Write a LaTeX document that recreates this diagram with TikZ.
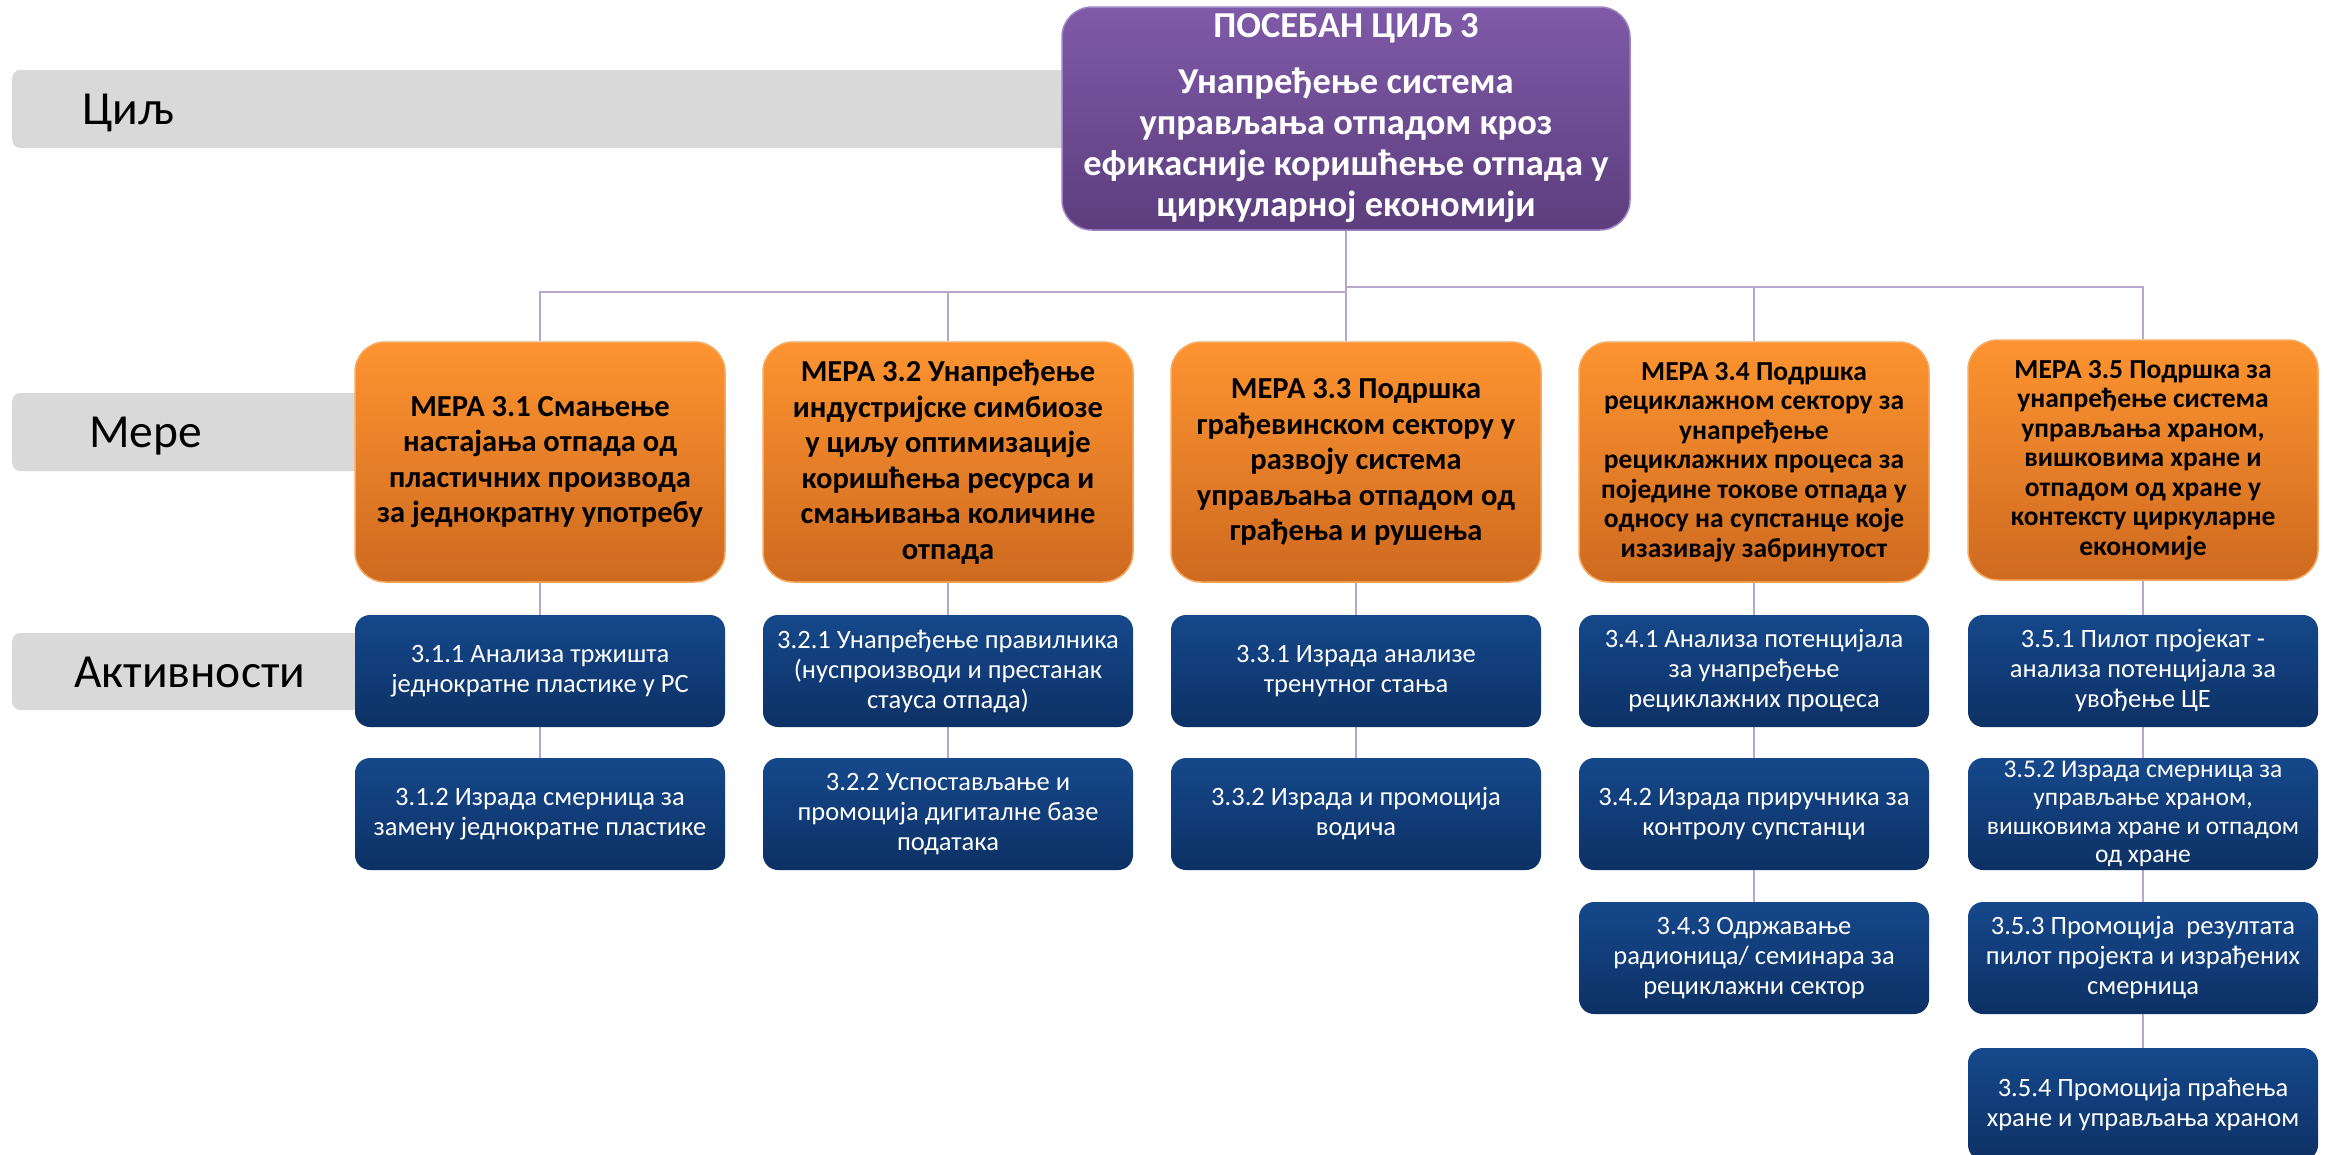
\documentclass[tikz,border=0pt]{standalone}
\usepackage{fontspec}
\setmainfont{Carlito}
\pgfdeclarelayer{bg}
\pgfsetlayers{bg,main}
\definecolor{orTop}{RGB}{253,148,48}
\definecolor{orBot}{RGB}{206,106,32}
\definecolor{orEdge}{RGB}{248,170,96}
\definecolor{blTop}{RGB}{21,72,139}
\definecolor{blBot}{RGB}{13,49,101}
\definecolor{puTop}{RGB}{127,90,168}
\definecolor{puBot}{RGB}{92,62,126}
\definecolor{puEdge}{RGB}{160,132,196}
\definecolor{connc}{RGB}{182,166,208}
\definecolor{lblgray}{RGB}{217,217,217}
\begin{document}
\begin{tikzpicture}[x=1pt,y=-1pt,
  mera/.style={rectangle, rounded corners=30pt, top color=orTop, bottom color=orBot,
    draw=orEdge, line width=1.5pt, minimum width=370pt, minimum height=240pt,
    align=center, inner sep=0pt, font=\bfseries\fontsize{30.5}{35.5}\selectfont},
  meranarrow/.style={mera, minimum width=350pt, font=\bfseries\fontsize{27.5}{29.5}\selectfont},
  akt/.style={rectangle, rounded corners=15pt, top color=blTop, bottom color=blBot,
    draw=none, minimum width=370pt, minimum height=112pt, align=center, inner sep=0pt,
    text=white, font=\fontsize{26.5}{30}\selectfont},
  aktnarrow/.style={akt, minimum width=350pt},
  cilj/.style={rectangle, rounded corners=30pt, top color=puTop, bottom color=puBot,
    draw=puEdge, line width=1.5pt, minimum width=568pt, minimum height=223pt,
    align=center, inner sep=0pt, text=white, font=\bfseries\fontsize{36.5}{41}\selectfont},
  graybar/.style={rectangle, rounded corners=8pt, fill=lblgray, draw=none, inner sep=0pt},
  lbltext/.style={anchor=base west, inner sep=0pt, font=\fontsize{47.5}{50}\selectfont},
  cl/.style={draw=connc, line width=2.5pt}
]
\useasboundingbox (0,0) rectangle (2328,1154);

% goal
\node[cilj] (pu) at (1346,118.5) {ПОСЕБАН ЦИЉ 3\\[15pt]Унапређење система\\управљања отпадом кроз\\ефикасније коришћење отпада у\\циркуларној економији};

% measures
\node[mera] (m1) at (540,462) {МЕРА 3.1 Смањење\\настајања отпада од\\пластичних производа\\за једнократну употребу};
\node[mera] (m2) at (948,462) {МЕРА 3.2 Унапређење\\индустријске симбиозе\\у циљу оптимизације\\коришћења ресурса и\\смањивања количине\\отпада};
\node[mera] (m3) at (1356,462) {МЕРА 3.3 Подршка\\грађевинском сектору у\\развоју система\\управљања отпадом од\\грађења и рушења};
\node[meranarrow] (m4) at (1754,462) {МЕРА 3.4 Подршка\\рециклажном сектору за\\унапређење\\рециклажних процеса за\\поједине токове отпада у\\односу на супстанце које\\изазивају забринутост};
\node[meranarrow] (m5) at (2143,460) {МЕРА 3.5 Подршка за\\унапређење система\\управљања храном,\\вишковима хране и\\отпадом од хране у\\контексту циркуларне\\економије};

% activities
\node[akt] (a11) at (540,671) {3.1.1 Анализа тржишта\\једнократне пластике у РС};
\node[akt] (a12) at (540,814) {3.1.2 Израда смерница за\\замену једнократне пластике};
\node[akt] (a21) at (948,671) {3.2.1 Унапређење правилника\\(нуспроизводи и престанак\\стауса отпада)};
\node[akt] (a22) at (948,814) {3.2.2 Успостављање и\\промоција дигиталне базе\\података};
\node[akt] (a31) at (1356,671) {3.3.1 Израда анализе\\тренутног стања};
\node[akt] (a32) at (1356,814) {3.3.2 Израда и промоција\\водича};
\node[aktnarrow] (a41) at (1754,671) {3.4.1 Анализа потенцијала\\за унапређење\\рециклажних процеса};
\node[aktnarrow] (a42) at (1754,814) {3.4.2 Израда приручника за\\контролу супстанци};
\node[aktnarrow] (a43) at (1754,958) {3.4.3 Одржавање\\радионица/ семинара за\\рециклажни сектор};
\node[aktnarrow] (a51) at (2143,671) {3.5.1 Пилот пројекат -\\анализа потенцијала за\\увођење ЦЕ};
\node[aktnarrow, font=\fontsize{25.5}{28.5}\selectfont] (a52) at (2143,814) {3.5.2 Израда смерница за\\управљање храном,\\вишковима хране и отпадом\\од хране};
\node[aktnarrow] (a53) at (2143,958) {3.5.3 Промоција\ \ резултата\\пилот пројекта и израђених\\смерница};
\node[aktnarrow] (a54) at (2143,1104) {3.5.4 Промоција праћења\\хране и управљања храном};

\begin{pgfonlayer}{bg}
  \fill[white] (0,0) rectangle (2328,1154);
  \node[graybar, minimum width=1060pt, minimum height=78pt, anchor=west] (g1) at (12,109) {};
  \node[graybar, minimum width=360pt, minimum height=78pt, anchor=west] (g2) at (12,432) {};
  \node[graybar, minimum width=360pt, minimum height=77pt, anchor=west] (g3) at (12,671.5) {};
  \coordinate (busL) at (1346,292);
  \coordinate (busR) at (1346,287);
  \draw[cl] (pu.south) -- (pu.south |- m3.north);
  \draw[cl] (pu.south) -- (busL) -| (m1.north);
  \draw[cl] (busL) -| (m2.north);
  \draw[cl] (busR) -| (m4.north);
  \draw[cl] (busR) -| (m5.north);
  \draw[cl] (m1.south) -- (a11.north);
  \draw[cl] (a11.south) -- (a12.north);
  \draw[cl] (m2.south) -- (a21.north);
  \draw[cl] (a21.south) -- (a22.north);
  \draw[cl] (m3.south) -- (a31.north);
  \draw[cl] (a31.south) -- (a32.north);
  \draw[cl] (m4.south) -- (a41.north);
  \draw[cl] (a41.south) -- (a42.north);
  \draw[cl] (a42.south) -- (a43.north);
  \draw[cl] (m5.south) -- (a51.north);
  \draw[cl] (a51.south) -- (a52.north);
  \draw[cl] (a52.south) -- (a53.north);
  \draw[cl] (a53.south) -- (a54.north);
\end{pgfonlayer}

% row labels
\node[lbltext] (t1) at (82,124.5) {Циљ};
\node[lbltext] (t2) at (89,447.5) {Мере};
\node[lbltext] (t3) at (74,687) {Активности};
\end{tikzpicture}
\end{document}
